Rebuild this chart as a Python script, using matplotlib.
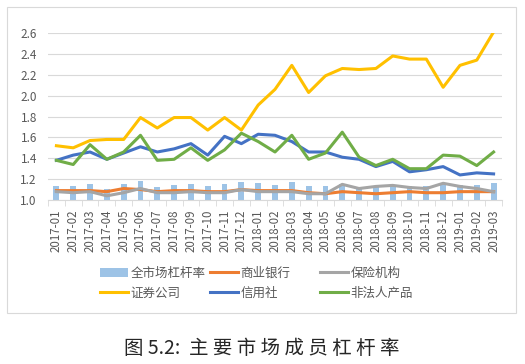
import numpy as np
import matplotlib.pyplot as plt
from matplotlib.patches import Rectangle

plt.rcParams['font.family'] = ['Noto Sans CJK SC', 'DejaVu Sans']

months = ['2017-01', '2017-02', '2017-03', '2017-04', '2017-05', '2017-06',
          '2017-07', '2017-08', '2017-09', '2017-10', '2017-11', '2017-12',
          '2018-01', '2018-02', '2018-03', '2018-04', '2018-05', '2018-06',
          '2018-07', '2018-08', '2018-09', '2018-10', '2018-11', '2018-12',
          '2019-01', '2019-02', '2019-03']

market = [1.13, 1.13, 1.15, 1.11, 1.15, 1.18, 1.12, 1.14, 1.15, 1.13, 1.15, 1.17,
          1.16, 1.14, 1.17, 1.13, 1.13, 1.15, 1.12, 1.13, 1.14, 1.13, 1.13, 1.16,
          1.14, 1.14, 1.16]
banks = [1.09, 1.09, 1.09, 1.08, 1.11, 1.10, 1.08, 1.09, 1.09, 1.08, 1.08, 1.10,
         1.09, 1.09, 1.09, 1.07, 1.06, 1.08, 1.07, 1.06, 1.07, 1.08, 1.07, 1.07,
         1.08, 1.08, 1.08]
insurers = [1.08, 1.07, 1.08, 1.04, 1.07, 1.11, 1.07, 1.07, 1.08, 1.07, 1.07, 1.10,
            1.08, 1.08, 1.08, 1.06, 1.06, 1.15, 1.11, 1.13, 1.14, 1.12, 1.11, 1.16,
            1.13, 1.11, 1.08]
brokers = [1.52, 1.50, 1.57, 1.58, 1.58, 1.79, 1.69, 1.79, 1.79, 1.67, 1.79, 1.67,
           1.91, 2.06, 2.29, 2.03, 2.19, 2.26, 2.25, 2.26, 2.38, 2.35, 2.35, 2.08,
           2.29, 2.34, 2.61]
credit_coops = [1.38, 1.43, 1.46, 1.39, 1.45, 1.51, 1.46, 1.49, 1.54, 1.43, 1.61, 1.54,
                1.63, 1.62, 1.56, 1.46, 1.46, 1.41, 1.39, 1.32, 1.37, 1.27, 1.29, 1.32,
                1.24, 1.26, 1.25]
products = [1.38, 1.34, 1.53, 1.39, 1.46, 1.62, 1.38, 1.39, 1.50, 1.38, 1.48, 1.64,
            1.56, 1.46, 1.62, 1.39, 1.45, 1.65, 1.41, 1.33, 1.39, 1.30, 1.30, 1.43,
            1.42, 1.33, 1.46]

fig = plt.figure(figsize=(5.25, 3.64), dpi=100)
fig.patches.append(Rectangle((7 / 525, 1 - 313 / 364), 509 / 525, 306 / 364,
                             transform=fig.transFigure, fill=False,
                             edgecolor='#d9d9d9', linewidth=0.8))

ax = fig.add_axes([48 / 525, 1 - 200 / 364, 454 / 525, 167 / 364])
x = np.arange(len(months))

bar = ax.bar(x, np.array(market) - 1.0, bottom=1.0, width=0.35,
             color='#9dc3e6', label='全市场杠杆率', zorder=2)
lw = 2.2
l_bank, = ax.plot(x, banks, color='#ed7d31', lw=lw, label='商业银行', zorder=3)
l_ins, = ax.plot(x, insurers, color='#a5a5a5', lw=lw, label='保险机构', zorder=3)
l_brk, = ax.plot(x, brokers, color='#ffc000', lw=lw, label='证券公司', zorder=3)
l_cc, = ax.plot(x, credit_coops, color='#4472c4', lw=lw, label='信用社', zorder=3)
l_prd, = ax.plot(x, products, color='#70ad47', lw=lw, label='非法人产品', zorder=3)

ax.set_xlim(-0.5, len(months) - 0.5)
ax.set_ylim(1.0, 2.6)
ax.set_yticks(np.arange(1.0, 2.61, 0.2))
ax.set_yticklabels(['%.1f' % v for v in np.arange(1.0, 2.61, 0.2)])
ax.set_xticks(x)
ax.set_xticklabels(months, rotation=90)
ax.set_xticks(np.arange(-0.5, len(months), 1.0), minor=True)
ax.tick_params(axis='x', which='major', length=0, pad=7, labelsize=8.3, labelcolor='#595959')
ax.tick_params(axis='x', which='minor', length=4, color='#d9d9d9')
ax.tick_params(axis='y', length=0, pad=8, labelsize=8.5, labelcolor='#595959')
ax.grid(axis='y', color='#d9d9d9', lw=0.8, zorder=0)
ax.set_axisbelow(True)
for side in ['top', 'right', 'left']:
    ax.spines[side].set_visible(False)
ax.spines['bottom'].set_color('#d9d9d9')

# three legend columns, placed like the Excel legend
columns = [(100, [bar, l_brk]), (210, [l_bank, l_cc]), (320, [l_ins, l_prd])]
for left, hs in columns:
    leg = fig.legend(hs, [h.get_label() for h in hs], ncol=1,
                     loc='center left', bbox_to_anchor=(left / 525, 1 - 283 / 364),
                     frameon=False, fontsize=9, labelcolor='#595959',
                     handlelength=2.2, handletextpad=0.25, labelspacing=0.55,
                     borderpad=0, borderaxespad=0)

fig.text(262 / 525, 1 - 348 / 364, '图 5.2:  主 要 市 场 成 员 杠 杆 率',
         ha='center', va='center', fontsize=14, color='#262626')

fig.savefig('out.png', dpi=100)
